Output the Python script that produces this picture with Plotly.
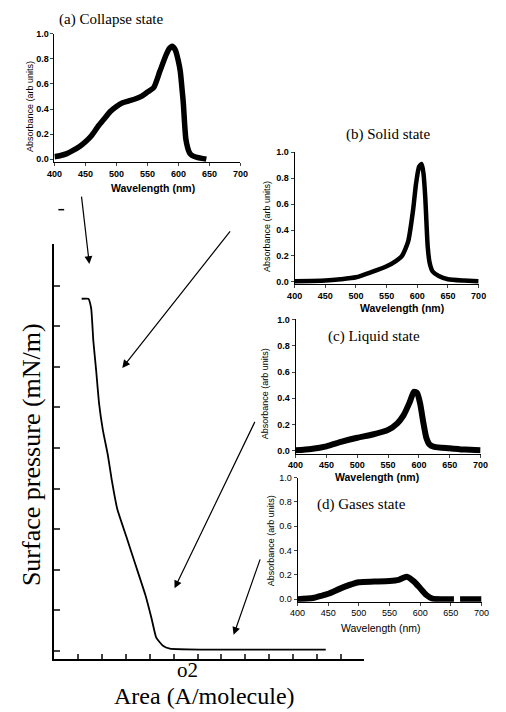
import plotly.graph_objects as go

W, H = 506, 712

# ---------------- data ----------------
# Main isotherm (area in tick units, surface pressure in mN/m; ticks every 5 mN/m)
area = [1.14, 1.42, 1.54, 1.63, 1.75, 1.87, 2.03, 2.24, 2.40, 2.64, 3.01, 3.41,
        3.82, 4.07, 4.27, 4.55, 4.84, 6.18, 11.38]
pressure = [43.4, 43.4, 42.2, 38.2, 34.5, 30.5, 27.2, 24.1, 21.1, 17.4, 14.1, 10.5,
            6.8, 4.0, 1.6, 0.6, 0.24, 0.12, 0.12]
area_ticks = [1, 2, 3, 4, 5, 6, 7, 8, 9, 10, 11, 12, 13]
pressure_ticks = [0, 5, 10, 15, 20, 25, 30, 35, 40, 45]

# (a) Collapse state
wl_a = [400, 410, 420, 430, 440, 450, 460, 470, 480, 490, 500, 510, 520, 530, 540,
        550, 560, 570, 580, 585, 590, 595, 600, 603, 606, 608, 610, 612, 615, 618,
        622, 630, 640, 645]
abs_a = [0.02, 0.03, 0.045, 0.07, 0.10, 0.14, 0.19, 0.26, 0.32, 0.38, 0.42, 0.45,
         0.465, 0.48, 0.50, 0.535, 0.57, 0.70, 0.83, 0.88, 0.90, 0.87, 0.78, 0.70,
         0.55, 0.44, 0.28, 0.16, 0.09, 0.05, 0.03, 0.015, 0.005, 0.0]

# (b) Solid state
wl_b = [400, 450, 475, 500, 525, 550, 565, 575, 585, 593, 598, 603, 607, 610, 613,
        615, 617, 620, 625, 635, 650, 675, 700]
abs_b = [0.005, 0.01, 0.02, 0.035, 0.075, 0.12, 0.16, 0.20, 0.31, 0.55, 0.76, 0.89,
         0.91, 0.84, 0.65, 0.45, 0.27, 0.15, 0.08, 0.045, 0.02, 0.01, 0.005]

# (c) Liquid state
wl_c = [400, 425, 450, 475, 500, 525, 550, 565, 575, 585, 592, 597, 602, 607, 612,
        617, 625, 650, 675, 700]
abs_c = [0.005, 0.015, 0.035, 0.07, 0.10, 0.125, 0.16, 0.21, 0.27, 0.37, 0.45, 0.44,
         0.36, 0.22, 0.10, 0.05, 0.03, 0.02, 0.01, 0.005]

# (d) Gases state
wl_d = [400, 425, 440, 450, 475, 500, 525, 550, 565, 578, 590, 600, 610, 620, 635,
        655, 660, 665, 700]
abs_d = [0.0, 0.01, 0.03, 0.045, 0.10, 0.14, 0.145, 0.15, 0.16, 0.185, 0.145, 0.09,
         0.035, 0.005, 0.0, 0.0, None, 0.0, 0.0]

wl_ticks = [400, 450, 500, 550, 600, 650, 700]
abs_ticks = [0.0, 0.2, 0.4, 0.6, 0.8, 1.0]
abs_ticktext = ["0.0", "0.2", "0.4", "0.6", "0.8", "1.0"]

panel_titles = ["(a) Collapse state", "(b) Solid state", "(c) Liquid state", "(d) Gases state"]

SERIF = "Liberation Serif"
SANS = "Liberation Sans"


def px(x):
    return x / W


def py(y):
    return 1 - y / H


def ydom(p0, p1, r0, r1):
    """p0 = pixel of value 0, p1 = pixel of value 1; range [r0, r1]."""
    ppu = p0 - p1
    bottom = p0 + (0 - r0) * ppu
    top = p1 - (r1 - 1) * ppu
    return [py(bottom), py(top)]


fig = go.Figure()

# main isotherm
fig.add_trace(go.Scatter(x=area, y=pressure, mode="lines",
                         line=dict(color="black", width=1.8, shape="spline", smoothing=0.4),
                         xaxis="x", yaxis="y", showlegend=False, hoverinfo="skip"))

panels = [
    (wl_a, abs_a, (48, 240), (156, 29), 5.5, (106, 15), (150, 185), (23, 103), True),
    (wl_b, abs_b, (296, 486), (280, 149), 4.5, (392, 131), (407, 306), (268, 224), True),
    (wl_c, abs_c, (297, 488), (451, 318), 6.0, (378, 335), (381, 477), (265, 393), True),
    (wl_d, abs_d, (299, 489), (601, 478), 6.0, (365, 505), (385, 630), (272, 542), False),
]

layout_axes = {}
annotations = []
R0 = -0.02
for i, (wl, ab, xp, yp, lw, tpos, wpos, apos, bold) in enumerate(panels):
    n = i + 2
    fig.add_trace(go.Scatter(x=wl, y=ab, mode="lines",
                             line=dict(color="black", width=lw, shape="spline", smoothing=0.6),
                             connectgaps=False, cliponaxis=False,
                             xaxis=f"x{n}", yaxis=f"y{n}", showlegend=False, hoverinfo="skip"))
    tf = dict(family=SANS, size=9, color="black", weight="bold" if bold else "normal")
    layout_axes[f"xaxis{n}"] = dict(
        domain=[px(xp[0]), px(xp[1])], range=[400, 700], anchor=f"y{n}",
        showline=True, linewidth=1, linecolor="black", ticks="outside", ticklen=3,
        tickwidth=1, tickvals=wl_ticks, tickfont=tf, showgrid=False, zeroline=False)
    layout_axes[f"yaxis{n}"] = dict(
        domain=ydom(yp[0], yp[1], R0, 1.0), range=[R0, 1.0], anchor=f"x{n}",
        showline=True, linewidth=1, linecolor="black", ticks="outside", ticklen=3,
        tickwidth=1, tickvals=abs_ticks, ticktext=abs_ticktext, tickfont=tf,
        showgrid=False, zeroline=False)
    annotations.append(dict(text=panel_titles[i], x=px(tpos[0]), y=py(tpos[1]),
                            xref="paper", yref="paper", showarrow=False,
                            xanchor="center", yanchor="middle",
                            font=dict(family=SERIF, size=15, color="black")))
    annotations.append(dict(text="Wavelength (nm)", x=px(wpos[0]), y=py(wpos[1]),
                            xref="paper", yref="paper", showarrow=False,
                            xanchor="center", yanchor="middle",
                            font=dict(family=SANS, size=10.5, color="black",
                                      weight="bold" if bold else "normal")))
    annotations.append(dict(text="Absorbance (arb units)", x=px(apos[0]), y=py(apos[1]),
                            xref="paper", yref="paper", showarrow=False, textangle=-90,
                            xanchor="center", yanchor="middle",
                            font=dict(family=SANS, size=9, color="black")))

# main axis titles
annotations.append(dict(text="Surface pressure (mN/m)", x=px(25), y=py(455),
                        xref="paper", yref="paper", showarrow=False, textangle=-90,
                        xanchor="center", yanchor="middle",
                        font=dict(family=SERIF, size=26, color="black")))
annotations.append(dict(text="Area (A/molecule)", x=px(203), y=py(699),
                        xref="paper", yref="paper", showarrow=False,
                        xanchor="center", yanchor="middle",
                        font=dict(family=SERIF, size=24, color="black")))
annotations.append(dict(text="o2", x=px(185), y=py(673),
                        xref="paper", yref="paper", showarrow=False,
                        xanchor="center", yanchor="middle",
                        font=dict(family=SERIF, size=21, color="black")))

# arrows: (head_x, head_y, tail_dx, tail_dy) in pixels
arrows = [(84, 262, -8, -69), (118, 367, 109, -138), (172, 590, 81, -168), (233, 637, 27, -77)]
for hx, hy, dx, dy in arrows:
    annotations.append(dict(text="", x=px(hx), y=py(hy), xref="paper", yref="paper",
                            ax=dx, ay=dy, showarrow=True, arrowhead=2, arrowsize=1.3,
                            arrowwidth=1.2, arrowcolor="black", standoff=0))

layout_axes["xaxis"] = dict(domain=[px(48), px(368)], range=[0, 13], anchor="y",
                            showline=True, linewidth=2, linecolor="black", ticks="inside",
                            ticklen=5, tickwidth=1.5, tickvals=area_ticks,
                            showticklabels=False, showgrid=False, zeroline=False)
layout_axes["yaxis"] = dict(domain=[py(661), py(242)], range=[-0.976, 50.12], anchor="x",
                            showline=True, linewidth=2, linecolor="black", ticks="inside",
                            ticklen=6, tickwidth=1.5, tickvals=pressure_ticks,
                            showticklabels=False, showgrid=False, zeroline=False)

fig.update_layout(
    width=W, height=H, margin=dict(l=0, r=0, t=0, b=0),
    paper_bgcolor="white", plot_bgcolor="rgba(0,0,0,0)",
    showlegend=False, annotations=annotations,
    shapes=[dict(type="line", xref="paper", yref="paper", x0=px(52), x1=px(58),
                 y0=py(207), y1=py(207), line=dict(color="black", width=1.5))],
    **layout_axes,
)

fig.write_html("out.html")
